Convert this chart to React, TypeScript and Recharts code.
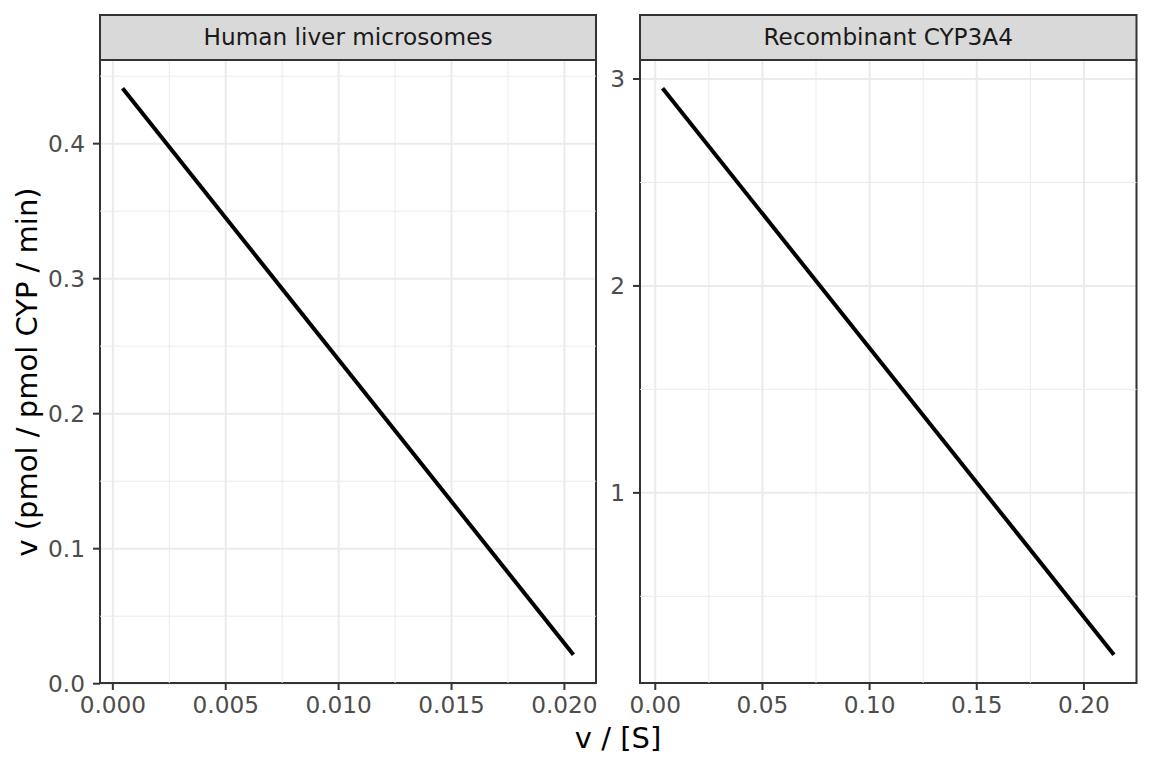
import React from 'react';
import {
  LineChart,
  Line,
  XAxis,
  YAxis,
  CartesianGrid,
  ReferenceLine,
  ReferenceArea,
} from 'recharts';

// ---- Data ----
const panelTitles = ['Human liver microsomes', 'Recombinant CYP3A4'];

const hlmX = [0.00043, 0.0204];
const hlmY = [0.441, 0.0215];
const recX = [0.0034, 0.214];
const recY = [2.955, 0.218];

const hlmXTicks = [0, 0.005, 0.01, 0.015, 0.02];
const hlmYTicks = [0, 0.1, 0.2, 0.3, 0.4];
const hlmXMinor = [0.0025, 0.0075, 0.0125, 0.0175];
const hlmYMinor = [0.05, 0.15, 0.25, 0.35, 0.45];

const recXTicks = [0, 0.05, 0.1, 0.15, 0.2];
const recYTicks = [1, 2, 3];
const recXMinor = [0.025, 0.075, 0.125, 0.175];
const recYMinor = [0.5, 1.5, 2.5];

const xTitle = 'v / [S]';
const yTitle = 'v (pmol / pmol CYP / min)';

const FONT = "'DejaVu Sans', sans-serif";

const expand = (vals: number[]): [number, number] => {
  const lo = Math.min(...vals);
  const hi = Math.max(...vals);
  const r = hi - lo;
  return [lo - 0.05 * r, hi + 0.05 * r];
};

const toRows = (xs: number[], ys: number[]) => xs.map((x, i) => ({ x, y: ys[i] }));

type PanelProps = {
  xs: number[];
  ys: number[];
  xTicks: number[];
  yTicks: number[];
  xMinor: number[];
  yMinor: number[];
  xDigits: number;
  yDigits: number;
  width: number;
  margin: { top: number; right: number; bottom: number; left: number };
};

const tickStyle = { fill: '#4D4D4D', fontSize: 23.2, fontFamily: FONT };

function Panel(p: PanelProps) {
  const data = toRows(p.xs, p.ys);
  const xDom = expand(p.xs);
  const yDom = expand(p.ys);
  return (
    <LineChart width={p.width} height={768} data={data} margin={p.margin}>
      <CartesianGrid stroke="#EBEBEB" strokeWidth={2} />
      {p.xMinor.map((v) => (
        <ReferenceLine key={'xm' + v} x={v} stroke="#EBEBEB" strokeWidth={1} />
      ))}
      {p.yMinor.map((v) => (
        <ReferenceLine key={'ym' + v} y={v} stroke="#EBEBEB" strokeWidth={1} />
      ))}
      <XAxis
        dataKey="x"
        type="number"
        domain={xDom}
        ticks={p.xTicks}
        allowDataOverflow
        interval={0}
        height={40}
        tickSize={7}
        tickMargin={7}
        axisLine={false}
        tickLine={{ stroke: '#333333', strokeWidth: 2 }}
        tick={tickStyle}
        tickFormatter={(v: number) => v.toFixed(p.xDigits)}
      />
      <YAxis
        type="number"
        domain={yDom}
        ticks={p.yTicks}
        allowDataOverflow
        interval={0}
        width={60}
        tickSize={7}
        tickMargin={8}
        axisLine={false}
        tickLine={{ stroke: '#333333', strokeWidth: 2 }}
        tick={tickStyle}
        tickFormatter={(v: number) => v.toFixed(p.yDigits)}
      />
      <Line
        type="linear"
        dataKey="y"
        stroke="#000000"
        strokeWidth={4}
        strokeLinecap="butt"
        dot={false}
        activeDot={false}
        isAnimationActive={false}
      />
      <ReferenceArea
        x1={xDom[0]}
        x2={xDom[1]}
        y1={yDom[0]}
        y2={yDom[1]}
        fill="none"
        fillOpacity={0}
        stroke="#333333"
        strokeWidth={2}
        ifOverflow="visible"
      />
    </LineChart>
  );
}

export default function App() {
  return (
    <div
      style={{
        position: 'absolute',
        left: 0,
        top: 0,
        width: 1152,
        height: 768,
        background: '#FFFFFF',
        fontFamily: FONT,
        overflow: 'hidden',
      }}
    >
      <div style={{ position: 'absolute', left: 0, top: 0 }}>
        <Panel
          xs={hlmX}
          ys={hlmY}
          xTicks={hlmXTicks}
          yTicks={hlmYTicks}
          xMinor={hlmXMinor}
          yMinor={hlmYMinor}
          xDigits={3}
          yDigits={1}
          width={620}
          margin={{ top: 60, right: 24, bottom: 45, left: 40 }}
        />
      </div>
      <div style={{ position: 'absolute', left: 560, top: 0 }}>
        <Panel
          xs={recX}
          ys={recY}
          xTicks={recXTicks}
          yTicks={recYTicks}
          xMinor={recXMinor}
          yMinor={recYMinor}
          xDigits={2}
          yDigits={0}
          width={592}
          margin={{ top: 60, right: 15.5, bottom: 45, left: 20 }}
        />
      </div>
      <svg
        width={1152}
        height={768}
        style={{ position: 'absolute', left: 0, top: 0, pointerEvents: 'none' }}
      >
        <rect x={100} y={15} width={496} height={45} fill="#D9D9D9" stroke="#333333" strokeWidth={2} />
        <rect x={640} y={15} width={496.5} height={45} fill="#D9D9D9" stroke="#333333" strokeWidth={2} />
        <text x={348} y={45} textAnchor="middle" fontSize={23.2} fill="#1A1A1A" fontFamily={FONT}>
          {panelTitles[0]}
        </text>
        <text x={888.25} y={45} textAnchor="middle" fontSize={23.2} fill="#1A1A1A" fontFamily={FONT}>
          {panelTitles[1]}
        </text>
        <text x={618} y={748} textAnchor="middle" fontSize={29} fill="#000000" fontFamily={FONT}>
          {xTitle}
        </text>
        <text
          transform="translate(37,372) rotate(-90)"
          textAnchor="middle"
          fontSize={29}
          fill="#000000"
          fontFamily={FONT}
        >
          {yTitle}
        </text>
      </svg>
    </div>
  );
}
